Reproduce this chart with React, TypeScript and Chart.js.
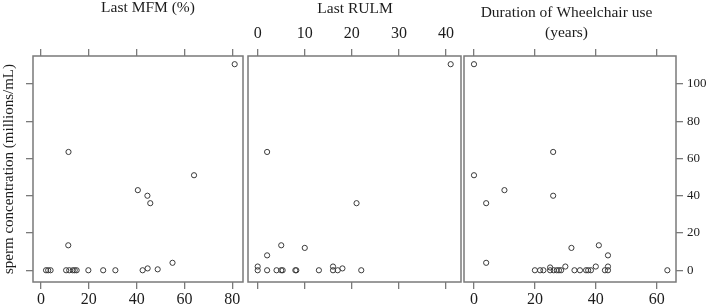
import React, { useEffect, useRef } from 'react';
import { Chart, registerables } from 'chart.js';

Chart.register(...registerables);

// ---------- data ----------
const mfmX = [81, 11.5, 64, 40.5, 44.5, 45.7, 11.4, 55, 44.6, 48.8, 42.5, 31.1, 26, 19.8, 14.9, 14.1, 13.3, 11.8, 10.5, 4, 3, 2.1];
const mfmY = [110.6, 63.5, 51, 43, 40, 36, 13.4, 4, 1, 0.5, 0, 0, 0, 0, 0, 0, 0, 0, 0, 0, 0, 0];

const rulmX = [41, 2, 21, 5, 10, 2, 0, 0, 2, 4, 5, 5.3, 8, 8.2, 13, 16, 16, 17, 18, 22];
const rulmY = [110.6, 63.5, 36, 13.4, 12, 8, 2, 0, 0, 0, 0, 0, 0, 0, 0, 0, 2, 0, 1, 0];

const wheelX = [0, 0, 10, 4, 4, 26, 26, 32, 41, 44, 44, 43, 44, 63.5, 20, 21.7, 22.8, 25, 25, 26.2, 27.2, 27.9, 28.6, 30, 33, 34.8, 36.8, 37.5, 38.4, 40];
const wheelY = [110.6, 51, 43, 36, 4, 63.5, 40, 12, 13.4, 8, 2, 0, 0, 0, 0, 0, 0, 0, 1.5, 0, 0, 0, 0, 2, 0, 0, 0, 0, 0, 2];

const panelTitles = [['Last MFM (%)'], ['Last RULM'], ['Duration of Wheelchair use', '(years)']];
const yTitle = 'sperm concentration (millions/mL)';

// ---------- styling ----------
const W = 708;
const H = 306;
const FONT = '"Liberation Serif", "Times New Roman", serif';
const TEXT = '#1c1c1c';
const FRAME = '#7a7a7a';
const Y_MIN = -6.3;
const Y_MAX = 115;
const TOP = 56;
const BOTTOM_AXIS_H = 24;

type Panel = {
  xs: number[];
  ys: number[];
  xMin: number;
  xMax: number;
  xStep: number;
  padLeft: number;
  padRight: number;
  bottomLabels: boolean;
  topLabels: boolean;
  yMode: 'left' | 'none' | 'right';
  yWidth: number;
  title: string[];
  titleX: number;
  titleY: number;
};

const panels: Panel[] = [
  { xs: mfmX, ys: mfmY, xMin: -3.35, xMax: 84.48, xStep: 20, padLeft: 0, padRight: W - 243, bottomLabels: true, topLabels: false, yMode: 'left', yWidth: 33, title: panelTitles[0], titleX: 148, titleY: 7.5 },
  { xs: rulmX, ys: rulmY, xMin: -2.06, xMax: 43.19, xStep: 10, padLeft: 248, padRight: W - 461, bottomLabels: false, topLabels: true, yMode: 'none', yWidth: 0, title: panelTitles[1], titleX: 355, titleY: 9 },
  { xs: wheelX, ys: wheelY, xMin: -3.28, xMax: 66.34, xStep: 20, padLeft: 464, padRight: 0, bottomLabels: true, topLabels: false, yMode: 'right', yWidth: W - 676, title: panelTitles[2], titleX: 566.5, titleY: 13 },
];

function makeConfig(p: Panel): any {
  const framePlugin = {
    id: 'frame',
    afterDraw(chart: any) {
      const { ctx, chartArea: a } = chart;
      ctx.save();
      ctx.strokeStyle = FRAME;
      ctx.lineWidth = 1.5;
      ctx.strokeRect(a.left, a.top, a.right - a.left, a.bottom - a.top);
      ctx.restore();
    },
  };
  const titlePlugin = {
    id: 'panelTitle',
    afterDraw(chart: any) {
      const { ctx } = chart;
      ctx.save();
      ctx.font = `15.5px ${FONT}`;
      ctx.fillStyle = TEXT;
      ctx.textAlign = 'center';
      ctx.textBaseline = 'middle';
      p.title.forEach((line, i) => ctx.fillText(line, p.titleX, p.titleY + i * 19.5));
      ctx.restore();
    },
  };

  const grid = { display: true, drawOnChartArea: false, drawTicks: true, tickLength: 7, color: FRAME, lineWidth: 1.3 };

  const xCommon = {
    type: 'linear',
    min: p.xMin,
    max: p.xMax,
    grid,
    border: { display: false },
  };

  return {
    type: 'scatter',
    data: {
      datasets: [
        {
          data: p.xs.map((x, i) => ({ x, y: p.ys[i] })),
          xAxisID: 'x',
          yAxisID: 'y',
          pointStyle: 'circle',
          pointRadius: 2.6,
          borderWidth: 1,
          borderColor: '#3a3a3a',
          backgroundColor: 'rgba(0,0,0,0)',
        },
      ],
    },
    options: {
      responsive: false,
      animation: false,
      devicePixelRatio: 1,
      events: [],
      layout: { padding: { left: p.padLeft, right: p.padRight, top: 0, bottom: 0 } },
      plugins: { legend: { display: false }, tooltip: { enabled: false }, title: { display: false } },
      scales: {
        x: {
          ...xCommon,
          position: 'bottom',
          afterFit: (s: any) => { s.height = BOTTOM_AXIS_H; },
          ticks: { display: p.bottomLabels, stepSize: p.xStep, includeBounds: false, autoSkip: false, maxRotation: 0, padding: 1, color: TEXT, font: { family: FONT, size: 16 } },
        },
        xTop: {
          ...xCommon,
          position: 'top',
          afterFit: (s: any) => { s.height = TOP; },
          ticks: { display: p.topLabels, stepSize: p.xStep, includeBounds: false, autoSkip: false, maxRotation: 0, padding: 6, color: TEXT, font: { family: FONT, size: 16 } },
        },
        y: {
          type: 'linear',
          display: p.yMode !== 'none',
          position: p.yMode === 'right' ? 'right' : 'left',
          min: Y_MIN,
          max: Y_MAX,
          afterFit: (s: any) => { if (p.yMode !== 'none') s.width = p.yWidth; },
          grid,
          border: { display: false },
          ticks: { display: p.yMode === 'right', stepSize: 20, includeBounds: false, autoSkip: false, padding: 4, color: TEXT, font: { family: FONT, size: 13 } },
          title: {
            display: p.yMode === 'left',
            text: yTitle,
            color: TEXT,
            font: { family: FONT, size: 15 },
            padding: { top: 0, bottom: 0 },
          },
        },
      },
    },
    plugins: [framePlugin, titlePlugin],
  };
}

function PanelCanvas({ panel }: { panel: Panel }) {
  const ref = useRef<HTMLCanvasElement | null>(null);
  useEffect(() => {
    if (!ref.current) return;
    const chart = new Chart(ref.current, makeConfig(panel));
    return () => chart.destroy();
  }, [panel]);
  return <canvas ref={ref} width={W} height={H} style={{ position: 'absolute', left: 0, top: 0, width: W, height: H }} />;
}

export default function App() {
  return (
    <div style={{ position: 'fixed', left: 0, top: 0, width: W, height: H, background: '#ffffff', overflow: 'hidden' }}>
      {panels.map((p, i) => (
        <PanelCanvas key={i} panel={p} />
      ))}
    </div>
  );
}
